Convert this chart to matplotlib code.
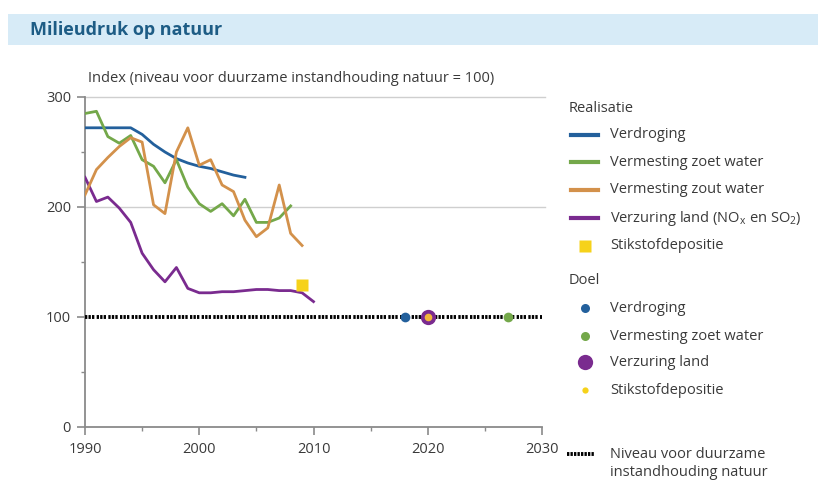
import matplotlib
matplotlib.use("Agg")
import matplotlib.pyplot as plt
from matplotlib.lines import Line2D
from matplotlib.patches import Rectangle
from matplotlib.ticker import MultipleLocator

plt.rcParams['font.family'] = ['Open Sans', 'DejaVu Sans']
plt.rcParams['mathtext.fontset'] = 'custom'
plt.rcParams['mathtext.rm'] = 'Open Sans'
plt.rcParams['mathtext.it'] = 'Open Sans'

# ---------------- data ----------------
years_verdroging = [1990, 1991, 1992, 1993, 1994, 1995, 1996, 1997, 1998, 1999,
                    2000, 2001, 2002, 2003, 2004]
verdroging = [272, 272, 272, 272, 272, 266, 257, 250, 244, 240,
              237, 235, 232, 229, 227]

years_zoet = list(range(1990, 2009))
zoet_water = [285, 287, 264, 258, 265, 243, 237, 222, 243, 218,
              203, 196, 203, 192, 207, 186, 186, 190, 201]

years_zout = list(range(1990, 2010))
zout_water = [211, 234, 245, 255, 263, 259, 202, 194, 250, 272,
              238, 243, 220, 214, 188, 173, 181, 220, 176, 165]

years_verzuring = list(range(1990, 2011))
verzuring = [227, 205, 209, 199, 186, 158, 143, 132, 145, 126,
             122, 122, 123, 123, 124, 125, 125, 124, 124, 122, 114]

year_stikstof = [2009]
stikstof = [129]

goal_verdroging = (2018, 100)
goal_zoet = (2027, 100)
goal_verzuring = (2020, 100)
goal_stikstof = (2020, 100)

niveau_years = [1990, 2030]
niveau = [100, 100]

xticks = [1990, 2000, 2010, 2020, 2030]
yticks = [0, 100, 200, 300]

title = "Milieudruk op natuur"
ylabel = "Index (niveau voor duurzame instandhouding natuur = 100)"

c_blue = "#23609c"
c_green = "#74a84a"
c_orange = "#d3914b"
c_purple = "#7a2b8f"
c_yellow = "#f6d21a"
c_text = "#3a3a3a"
c_axis = "#8a8a8a"

# ---------------- figure ----------------
W, H = 818, 482
fig = plt.figure(figsize=(W / 100, H / 100), dpi=100)

def fx(px):
    return px / W

def fy(py):
    return 1 - py / H

# title band
fig.add_artist(Rectangle((fx(8), fy(45)), fx(818) - fx(8), fy(14) - fy(45),
                         transform=fig.transFigure, facecolor="#d7ebf7",
                         edgecolor="none", zorder=0))
fig.text(fx(30), fy(30), title, fontsize=13, fontweight="bold",
         color="#1d5c85", va="center", ha="left")

ax = fig.add_axes([fx(85), fy(427), fx(542) - fx(85), fy(97) - fy(427)])
ax.set_xlim(1990, 2030)
ax.set_ylim(0, 300)

for s in ["top", "right"]:
    ax.spines[s].set_visible(False)
for s in ["left", "bottom"]:
    ax.spines[s].set_color(c_axis)
    ax.spines[s].set_linewidth(1.3)

ax.set_xticks(xticks)
ax.set_yticks(yticks)
ax.xaxis.set_minor_locator(MultipleLocator(5))
ax.yaxis.set_minor_locator(MultipleLocator(50))
ax.tick_params(axis="both", which="major", length=6, width=1.2, color=c_axis,
               labelsize=10.5, labelcolor=c_text)
ax.tick_params(axis="both", which="minor", length=3, width=1.0, color=c_axis)
ax.tick_params(axis="x", pad=5)
ax.tick_params(axis="y", pad=4)

# gridlines at 200 and 300
for gy in [200, 300]:
    ax.axhline(gy, xmin=0, xmax=1.007, color="#cfcfcf", lw=1.0, zorder=1,
               clip_on=False)

# dotted "niveau" line
ax.plot(niveau_years, niveau, color="black", lw=2.8,
        linestyle=(0, (0.6, 0.3, 0.6, 0.3, 0.6, 0.6)), zorder=3,
        solid_capstyle="butt", dash_capstyle="butt")

lw = 2.0
ax.plot(years_verdroging, verdroging, color=c_blue, lw=lw, zorder=4)
ax.plot(years_zoet, zoet_water, color=c_green, lw=lw, zorder=4)
ax.plot(years_zout, zout_water, color=c_orange, lw=lw, zorder=5)
ax.plot(years_verzuring, verzuring, color=c_purple, lw=lw, zorder=4)
ax.plot(year_stikstof, stikstof, marker="s", ms=8, color=c_yellow,
        linestyle="none", zorder=6, mec="none")

# goals
ax.plot([goal_verdroging[0]], [goal_verdroging[1]], marker="o", ms=7,
        color=c_blue, mec="none", zorder=6, linestyle="none")
ax.plot([goal_zoet[0]], [goal_zoet[1]], marker="o", ms=7,
        color=c_green, mec="none", zorder=6, linestyle="none")
ax.plot([goal_verzuring[0]], [goal_verzuring[1]], marker="o", ms=11,
        color=c_purple, mec="none", zorder=6, linestyle="none", clip_on=False)
ax.plot([goal_stikstof[0]], [goal_stikstof[1]], marker="o", ms=5.5,
        color="#f3b63a", mec="none", zorder=7, linestyle="none")

fig.text(fx(88), fy(78), ylabel, fontsize=10.5, color=c_text, va="center",
         ha="left")

# ---------------- legend ----------------
tx = fx(610)
hx0, hx1 = fx(571), fx(598)
hxc = (hx0 + hx1) / 2
fs = 10.5

fig.text(fx(569), fy(108), "Realisatie", fontsize=fs, color=c_text,
         va="center", ha="left")
real_items = [
    ("Verdroging", c_blue, "line"),
    ("Vermesting zoet water", c_green, "line"),
    ("Vermesting zout water", c_orange, "line"),
    ("Verzuring land (NO$_\\mathregular{x}$ en SO$_\\mathregular{2}$)", c_purple, "line"),
    ("Stikstofdepositie", c_yellow, "square"),
]
real_y = [135, 162, 190, 218, 246]
for (lab, col, kind), py in zip(real_items, real_y):
    if kind == "line":
        fig.add_artist(Line2D([hx0, hx1], [fy(py), fy(py)], color=col,
                              lw=3, transform=fig.transFigure))
    else:
        fig.add_artist(Line2D([hxc], [fy(py)], marker="s", ms=8, color=col,
                              mec="none", linestyle="none",
                              transform=fig.transFigure))
    fig.text(tx, fy(py), lab, fontsize=fs, color=c_text, va="center",
             ha="left")

fig.text(fx(569), fy(281), "Doel", fontsize=fs, color=c_text, va="center",
         ha="left")
doel_items = [
    ("Verdroging", c_blue, 6.5),
    ("Vermesting zoet water", c_green, 6.5),
    ("Verzuring land", c_purple, 11),
    ("Stikstofdepositie", c_yellow, 4.5),
]
doel_y = [308, 336, 362, 390]
for (lab, col, ms), py in zip(doel_items, doel_y):
    fig.add_artist(Line2D([hxc], [fy(py)], marker="o", ms=ms, color=col,
                          mec="none", linestyle="none",
                          transform=fig.transFigure))
    fig.text(tx, fy(py), lab, fontsize=fs, color=c_text, va="center",
             ha="left")

fig.add_artist(Line2D([hx0 - fx(4), hx1 - fx(3)], [fy(454), fy(454)],
                      color="black", lw=2.8,
                      linestyle=(0, (0.6, 0.3)),
                      transform=fig.transFigure))
fig.text(tx, fy(454), "Niveau voor duurzame", fontsize=fs, color=c_text,
         va="center", ha="left")
fig.text(tx, fy(473), "instandhouding natuur", fontsize=fs, color=c_text,
         va="center", ha="left")

fig.savefig("out.png", dpi=100)
